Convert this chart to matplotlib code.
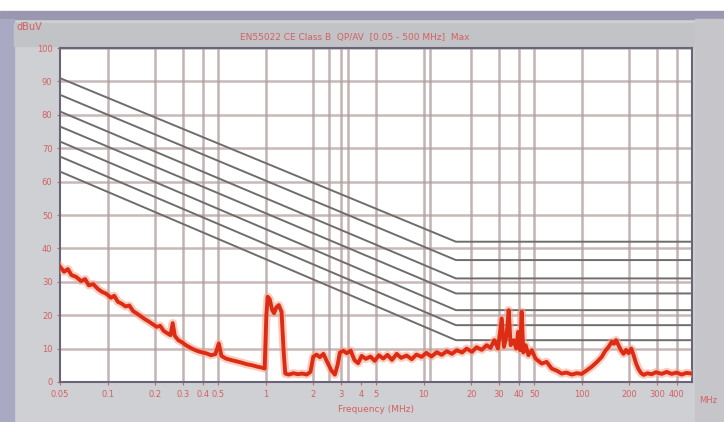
import numpy as np
import matplotlib
matplotlib.use("Agg")
import matplotlib.pyplot as plt

# 测量曲线 (频率 MHz, 电平 dBuV)
trace_freq = [0.050, 0.053, 0.056, 0.059, 0.063, 0.068, 0.072, 0.076, 0.081, 0.087,
              0.092, 0.098, 0.105, 0.110, 0.116, 0.122, 0.130, 0.137, 0.145, 0.153,
              0.163, 0.172, 0.182, 0.194, 0.204, 0.215, 0.226, 0.238, 0.250, 0.258,
              0.266, 0.280, 0.297, 0.315, 0.335, 0.355, 0.378, 0.400, 0.425, 0.450,
              0.480, 0.505, 0.525, 0.560, 0.600, 0.650, 0.700, 0.760, 0.820, 0.880,
              0.940, 0.985, 1.01, 1.03, 1.06, 1.10, 1.13, 1.17, 1.21, 1.26,
              1.30, 1.33, 1.40, 1.50, 1.60, 1.70, 1.82, 1.92, 2.00, 2.10,
              2.20, 2.32, 2.45, 2.60, 2.74, 2.85, 2.95, 3.10, 3.26, 3.45,
              3.65, 3.85, 4.05, 4.30, 4.60, 4.90, 5.20, 5.55, 5.90, 6.30,
              6.75, 7.20, 7.80, 8.40, 9.00, 9.70, 10.4, 11.2, 12.1, 13.0,
              14.0, 15.1, 16.2, 17.5, 18.7, 20.2, 21.6, 23.3, 25.0, 26.5,
              28.0, 29.5, 31.2, 32.2, 33.5, 34.5, 35.5, 37.1, 38.5, 39.6,
              40.8, 41.7, 42.7, 44.2, 46.0, 48.3, 51.0, 55.8, 60.0, 64.6,
              70.0, 74.7, 80.0, 86.5, 93.0, 100, 108, 116, 125, 134,
              141, 148, 155, 160, 165, 171, 177, 184, 191, 198,
              206, 213, 221, 229, 238, 247, 260, 277, 295, 321,
              345, 371, 400, 429, 460, 497]
trace_level = [34.5, 33.0, 33.8, 32.0, 31.5, 30.2, 30.8, 28.9, 29.3, 27.8,
               27.0, 26.4, 25.2, 25.8, 24.0, 23.5, 22.6, 22.9, 21.2, 20.5,
               19.6, 18.8, 18.1, 17.2, 16.5, 16.8, 15.3, 14.6, 14.0, 17.6,
               13.8, 12.5, 11.8, 10.9, 10.2, 9.6, 9.1, 8.8, 8.5, 8.0,
               8.3, 11.5, 7.8, 7.0, 6.6, 6.2, 5.8, 5.3, 5.0, 4.6,
               4.3, 4.0, 20.0, 25.5, 24.8, 21.5, 20.6, 22.4, 23.0, 21.0,
               9.0, 2.5, 2.2, 2.6, 2.3, 2.5, 2.2, 3.0, 7.5, 8.2,
               7.4, 8.4, 6.0, 3.5, 2.2, 5.0, 8.8, 9.3, 8.6, 9.4,
               6.5, 5.6, 7.8, 6.9, 7.6, 6.3, 8.0, 7.0, 8.1, 6.6,
               8.4, 7.2, 7.9, 6.8, 8.2, 7.5, 8.7, 7.6, 8.9, 8.1,
               9.2, 8.4, 9.5, 8.8, 10.0, 9.0, 10.4, 9.6, 11.0, 10.2,
               12.5, 10.0, 19.0, 10.5, 14.0, 21.5, 11.0, 12.5, 10.0, 15.0,
               9.5, 21.0, 8.8, 11.0, 8.0, 9.5, 7.0, 5.5, 6.0, 4.0,
               3.3, 2.5, 2.8, 2.2, 2.6, 2.4, 3.5, 4.6, 6.0, 7.5,
               9.3, 10.5, 12.0, 11.4, 12.5, 11.0, 9.5, 8.4, 9.6, 8.6,
               10.0, 8.0, 5.5, 3.8, 2.6, 2.1, 2.6, 2.3, 2.9, 2.4,
               3.0, 2.4, 2.8, 2.2, 2.7, 2.5]

# 限值线: 起点 / 拐点 / 终点
limit_freq = [0.05, 16.0, 500]
limit_start = [91.0, 86.0, 81.0, 76.5, 72.0, 67.5, 63.0]
limit_flat = [42.0, 36.5, 31.0, 26.5, 21.5, 17.0, 12.5]

# 网格与刻度
grid_freq = [0.1, 0.2, 0.3, 0.4, 0.5, 1, 2, 2.5, 3, 3.3, 5, 10, 11, 20, 30, 40, 50,
             100, 200, 300, 400]
tick_freq = [0.05, 0.1, 0.2, 0.3, 0.4, 0.5, 1, 2, 3, 4, 5, 10, 20, 30, 40, 50,
             100, 200, 300, 400]
tick_text = ['0.05', '0.1', '0.2', '0.3', '0.4', '0.5', '1', '2', '3', '4', '5',
             '10', '20', '30', '40', '50', '100', '200', '300', '400']
y_ticks = [0, 10, 20, 30, 40, 50, 60, 70, 80, 90, 100]

red_txt = '#d46060'

fig = plt.figure(figsize=(7.24, 4.22), dpi=100)
fig.patch.set_facecolor('#cfd0d4')

# 窗口边框
fig.add_artist(plt.Rectangle((0, 0.975), 1, 0.025, transform=fig.transFigure,
                             color='white', zorder=0))
fig.add_artist(plt.Rectangle((0, 0.955), 1, 0.02, transform=fig.transFigure,
                             color='#9a98b0', zorder=0))
fig.add_artist(plt.Rectangle((0, 0), 0.02, 0.955, transform=fig.transFigure,
                             color='#a9a9c4', zorder=0))
fig.add_artist(plt.Rectangle((0.02, 0.89), 0.94, 0.055, transform=fig.transFigure,
                             color='#c2c3c6', zorder=0))
fig.add_artist(plt.Rectangle((0.96, 0.0), 0.04, 0.955, transform=fig.transFigure,
                             color='#c6c6ca', zorder=0))

ax = fig.add_axes([0.083, 0.095, 0.873, 0.791])
ax.set_facecolor('white')
ax.set_xscale('log')
ax.set_xlim(0.05, 500)
ax.set_ylim(0, 100)

ax.set_xticks(tick_freq)
ax.set_xticklabels(tick_text)
ax.xaxis.set_minor_locator(matplotlib.ticker.NullLocator())
ax.set_yticks(y_ticks)
ax.tick_params(axis='both', labelsize=6, colors=red_txt, length=2)

# 竖直网格线直接画, 避免与主刻度重合时被丢弃
for f in grid_freq:
    ax.axvline(f, color='#a89494', lw=1.8, alpha=0.7, zorder=1)
ax.grid(True, which='major', axis='y', color='#b09c9c', lw=1.8, alpha=0.7)

for s in ax.spines.values():
    s.set_color('#6a6478')
    s.set_linewidth(1.5)

for a, b in zip(limit_start, limit_flat):
    ax.plot(limit_freq, [a, b, b], color='#706c6c', lw=1.4, zorder=3)

ax.plot(trace_freq, trace_level, color='#f6a48e', lw=6, alpha=0.55, zorder=4)
ax.plot(trace_freq, trace_level, color='#dc2c14', lw=2.8, zorder=5)

fig.text(0.49, 0.912, 'EN55022 CE Class B  QP/AV  [0.05 - 500 MHz]  Max',
         color=red_txt, fontsize=6.5, ha='center', va='center')
fig.text(0.04, 0.935, 'dBuV', color=red_txt, fontsize=7, ha='center', va='center')
fig.text(0.52, 0.03, 'Frequency (MHz)', color=red_txt, fontsize=6.5,
         ha='center', va='center')
fig.text(0.978, 0.052, 'MHz', color=red_txt, fontsize=6, ha='center', va='center')

fig.savefig('out.png', dpi=100, facecolor=fig.get_facecolor())
